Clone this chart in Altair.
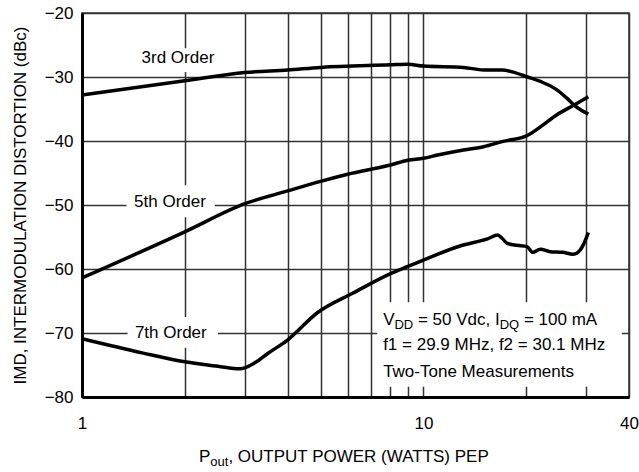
import altair as alt
import pandas as pd

# Two-tone intermodulation distortion vs. output power (W PEP)
p3 = [1, 2, 3, 4, 5, 8, 9, 10, 13.1, 15, 17, 18.2, 20.2, 22, 24.6, 26.3, 27.8, 30.4]
imd3 = [-32.8, -30.6, -29.3, -28.9, -28.5, -28.1, -28.0, -28.3, -28.5, -28.9,
        -28.9, -29.2, -30.0, -30.7, -32.0, -33.3, -34.5, -35.8]

p5 = [1, 2, 3, 4, 5, 6, 8, 9, 10, 11, 13.1, 15, 17, 20.2, 22, 24.6, 27.8, 30.4]
imd5 = [-61.4, -54.2, -49.8, -47.8, -46.3, -45.2, -43.75, -43.0, -42.7, -42.2,
        -41.4, -40.9, -40.1, -39.1, -37.8, -35.9, -34.3, -33.1]

p7 = [1, 1.5, 2, 2.5, 2.9, 3.2, 3.5, 4, 4.9, 6.2, 8.1, 9.0, 10, 12.8, 15.4, 16.5,
      17.0, 17.6, 18.8, 20.1, 20.9, 22.0, 23.5, 25.6, 27.4, 28.8, 29.7, 30.4]
imd7 = [-70.9, -73.1, -74.5, -75.2, -75.6, -74.7, -73.2, -71.1, -66.8, -63.8,
        -60.6, -59.6, -58.6, -56.4, -55.3, -54.7, -55.2, -56.0, -56.3, -56.5,
        -57.4, -56.9, -57.3, -57.4, -57.7, -57.0, -55.7, -54.3]

# Grid / tick values
x_grid = [1, 2, 3, 4, 5, 6, 7, 8, 9, 10, 20, 30, 40]
x_labeled = [1, 10, 40]
y_grid = [-80, -70, -60, -50, -40, -30, -20]

# Curve labels (placed in data units) and the white boxes behind them
order_names = ["3rd Order", "5th Order", "7th Order"]
order_lx = [1.91, 1.81, 1.82]
order_ly = [-27.0, -49.6, -70.0]
box_x0 = [1.38, 1.35, 1.36]
box_x1 = [2.62, 2.45, 2.50]
box_y0 = [-25.5, -46.9, -67.5]
box_y1 = [-29.2, -51.9, -72.3]

# Test-condition note
note_x = 7.62
note_y = [-68.0, -71.9, -76.1]
note_box = [7.32, 38.1, -65.2, -78.4]

FONT = "Liberation Sans"
FS = 17
SUB = 13

curves = pd.DataFrame({
    "p": p3 + p5 + p7,
    "imd": imd3 + imd5 + imd7,
    "order": ["3rd"] * len(p3) + ["5th"] * len(p5) + ["7th"] * len(p7),
})

label_expr = "indexof([%s], datum.value) >= 0 ? '' + datum.value : ''" % ",".join(str(v) for v in x_labeled)

x_scale = alt.Scale(type="log", domain=[1, 40], nice=False)
y_scale = alt.Scale(domain=[-80, -20], nice=False, zero=False)

x_axis = alt.Axis(values=x_grid, labelExpr=label_expr, grid=True, gridColor="#333",
                  gridWidth=1.5, domainColor="black", domainWidth=3, ticks=False,
                  tickSize=0, labelFontSize=FS, labelColor="black", labelPadding=18,
                  labelFlush=False, labelOverlap=False, title=None)
y_axis = alt.Axis(values=y_grid, grid=True, gridColor="#333", gridWidth=1.5,
                  domainColor="black", domainWidth=3, ticks=False, tickSize=0,
                  labelFontSize=FS, labelColor="black", labelPadding=9,
                  title="IMD, INTERMODULATION DISTORTION (dBc)", titleFontSize=FS,
                  titleFontWeight="normal", titleColor="black", titleX=-62, titleY=192,
                  titleAngle=270, titleAlign="center", titleBaseline="middle")


def xenc(field):
    return alt.X(field, type="quantitative", scale=x_scale, axis=x_axis)


def yenc(field):
    return alt.Y(field, type="quantitative", scale=y_scale, axis=y_axis)


boxes = pd.DataFrame({"x0": box_x0, "x1": box_x1, "y0": box_y0, "y1": box_y1})
box_layer = alt.Chart(boxes).mark_rect(color="white").encode(
    x=xenc("x0"), x2="x1", y=yenc("y0"), y2="y1")

nb = pd.DataFrame({"x0": [note_box[0]], "x1": [note_box[1]],
                   "y0": [note_box[2]], "y1": [note_box[3]]})
note_box_layer = alt.Chart(nb).mark_rect(color="white").encode(
    x=xenc("x0"), x2="x1", y=yenc("y0"), y2="y1")

line_layer = alt.Chart(curves).mark_line(
    color="black", strokeWidth=3.5, interpolate="monotone").encode(
    x=xenc("p"), y=yenc("imd"), detail="order:N")

labels = pd.DataFrame({"p": order_lx, "imd": order_ly, "t": order_names})
label_layer = alt.Chart(labels).mark_text(
    fontSize=FS, color="black", align="center", baseline="middle").encode(
    x=xenc("p"), y=yenc("imd"), text="t:N")


def note_piece(text, line, dx, size=FS, dy=0):
    df = pd.DataFrame({"p": [note_x], "imd": [note_y[line]], "t": [text]})
    return alt.Chart(df).mark_text(
        fontSize=size, color="black", align="left", baseline="middle", dx=dx, dy=dy
    ).encode(x=xenc("p"), y=yenc("imd"), text="t:N")


note_layers = [
    note_piece("V", 0, 0),
    note_piece("DD", 0, 11.3, SUB, 5),
    note_piece("= 50 Vdc, I", 0, 34.8),
    note_piece("DQ", 0, 116.6, SUB, 5),
    note_piece("= 100 mA", 0, 140.8),
    note_piece("f1 = 29.9 MHz, f2 = 30.1 MHz", 1, 0),
    note_piece("Two-Tone Measurements", 2, 0),
]


def title_piece(text, x, y, size=FS):
    return alt.Chart(pd.DataFrame({"t": [text]})).mark_text(
        fontSize=size, color="black", align="left", baseline="middle"
    ).encode(x=alt.value(x), y=alt.value(y), text="t:N")


x_title = [
    title_piece("P", 117, 444),
    title_piece("out", 128.3, 449, SUB),
    title_piece(", OUTPUT POWER (WATTS) PEP", 146.4, 444),
]

chart = alt.layer(
    box_layer, note_box_layer, line_layer, label_layer, *note_layers, *x_title
).properties(
    width=547, height=384,
    autosize=alt.AutoSizeParams(type="none"),
    padding={"left": 82, "top": 13, "right": 10, "bottom": 75},
    background="white",
).configure(font=FONT).configure_view(stroke="#333", strokeWidth=1.5)

chart.save("out.html", embed_options={"renderer": "svg", "actions": False})
